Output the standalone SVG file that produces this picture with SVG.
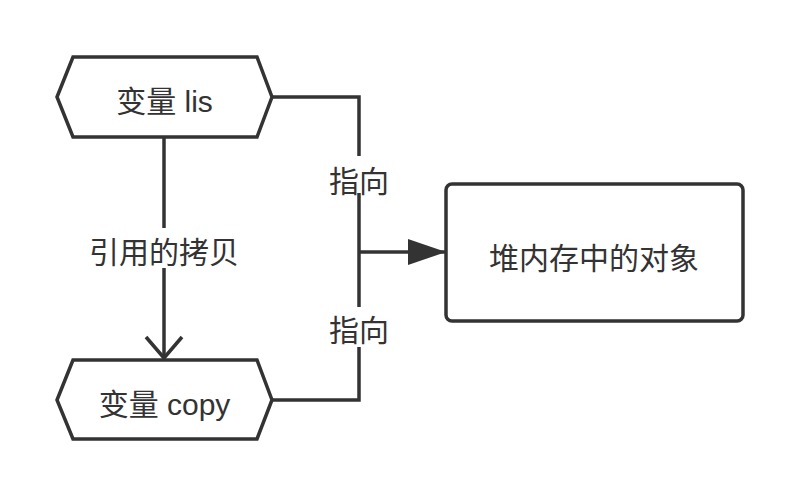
<svg xmlns="http://www.w3.org/2000/svg" width="800" height="498" viewBox="0 0 800 498">
<style>
.shape{fill:#fff;stroke:#333;stroke-width:3.5;stroke-linejoin:miter}
.edge{fill:none;stroke:#333;stroke-width:3.5}
.t{font-family:"Liberation Sans","Noto Sans CJK SC",sans-serif;font-size:30px;fill:#333;text-anchor:middle;dominant-baseline:central}
</style>
<defs>
<marker id="block" viewBox="0 0 38 26" refX="38" refY="13" markerWidth="38" markerHeight="26" markerUnits="userSpaceOnUse" orient="auto">
<path d="M0,0 L38,13 L0,26 Z" fill="#333"/>
</marker>
<marker id="open" viewBox="0 0 26 40" refX="23" refY="20" markerWidth="26" markerHeight="40" markerUnits="userSpaceOnUse" orient="auto">
<path d="M2,2 L23,20 L2,38" fill="none" stroke="#333" stroke-width="3.5"/>
</marker>
</defs>
<rect width="800" height="498" fill="#fff"/>
<g id="connectors">
<path class="edge" d="M272,97 H359 V156"/>
<path class="edge" d="M359,193 V307"/>
<path class="edge" d="M272,400 H359 V347"/>
<path class="edge" d="M359,252 H446" marker-end="url(#block)"/>
<path class="edge" d="M164,137 V228"/>
<path class="edge" d="M164,268 V358" marker-end="url(#open)"/>
<text class="t" x="359" y="181">指向</text>
<text class="t" x="359" y="330">指向</text>
<text class="t" x="164" y="252">引用的拷贝</text>
</g>
<g id="node-lis">
<polygon class="shape" points="57,97 73,57 257,57 272,97 257,137 73,137"/>
<text class="t" x="164.5" y="101">变量 lis</text>
</g>
<g id="node-copy">
<polygon class="shape" points="57,400 73,360 257,360 272,400 257,439 73,439"/>
<text class="t" x="164.5" y="404">变量 copy</text>
</g>
<g id="node-heap">
<rect class="shape" x="446" y="184" width="297" height="137" rx="6" ry="6"/>
<text class="t" x="594" y="258">堆内存中的对象</text>
</g>
</svg>
